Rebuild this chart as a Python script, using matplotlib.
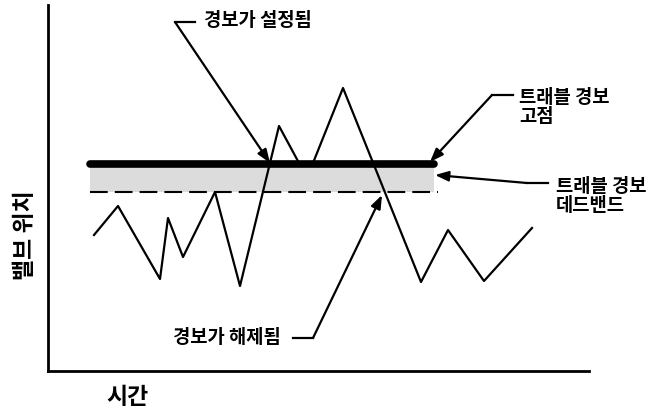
import numpy as np
import matplotlib.pyplot as plt

plt.rcParams['font.family'] = ['Noto Sans CJK KR', 'DejaVu Sans']

# 밸브 위치 (시간 축 / 위치 축, 임의 단위)
time = [46, 70, 112, 120, 135, 167, 192, 231, 251, 265, 295, 373, 400, 436, 484]
position = [136, 165, 92, 153, 114, 179, 85, 245, 208, 208, 283, 89, 141, 90, 143]

setpoint = 207          # 트래블 경보 고점
deadband_low = 179      # 데드밴드 하한
band_start, band_end = 42, 386

labels = ['경보가 설정됨', '경보가 해제됨', '트래블 경보\n고점', '트래블 경보\n데드밴드']
arrow_tips = [(222, 208), (334, 176), (382, 209), (387, 196)]
arrow_tails = [(127, 349), (265, 33), (444, 276), (479, 188)]
leader_ends = [(147, 349), (245, 33), (465, 276), (500, 188)]
text_pos = [(156, 350), (233, 34), (471, 264), (508, 175)]
text_ha = ['left', 'right', 'left', 'left']

fig = plt.figure(figsize=(6.53, 4.11), dpi=100)
ax = fig.add_axes([48 / 653, 40 / 411, 541 / 653, 366 / 411])

ax.fill_between([band_start, band_end], deadband_low, setpoint,
                color='#dcdcdc', linewidth=0)
ax.plot([band_start, band_end + 4], [deadband_low, deadband_low],
        color='black', lw=1.5, dashes=(8.5, 3.4))
ax.plot(time, position, color='black', lw=1.6)
ax.plot([band_start, band_end], [setpoint, setpoint],
        color='black', lw=5.5, solid_capstyle='round')

for lab, tip, tail, lend, tp, ha in zip(labels, arrow_tips, arrow_tails,
                                         leader_ends, text_pos, text_ha):
    ax.plot([tail[0], lend[0]], [tail[1], lend[1]], color='black', lw=1.6)
    ax.annotate('', xy=tip, xytext=tail,
                arrowprops=dict(arrowstyle='-|>,head_length=0.8,head_width=0.3',
                                color='black', lw=1.6, shrinkA=0, shrinkB=0))
    ax.text(tp[0], tp[1], lab, ha=ha, va='center', fontsize=13.5,
            fontweight='bold', linespacing=1.0)

ax.set_xlim(0, 541)
ax.set_ylim(0, 366)
ax.set_xticks([])
ax.set_yticks([])
for s in ['top', 'right']:
    ax.spines[s].set_visible(False)
for s in ['left', 'bottom']:
    ax.spines[s].set_linewidth(2)

ax.set_xlabel('시간', fontsize=16.5, fontweight='bold', labelpad=11, x=0.146)
ax.set_ylabel('밸브 위치', fontsize=16.5, fontweight='bold', labelpad=8, y=0.37)

fig.savefig('out.png', dpi=100)
